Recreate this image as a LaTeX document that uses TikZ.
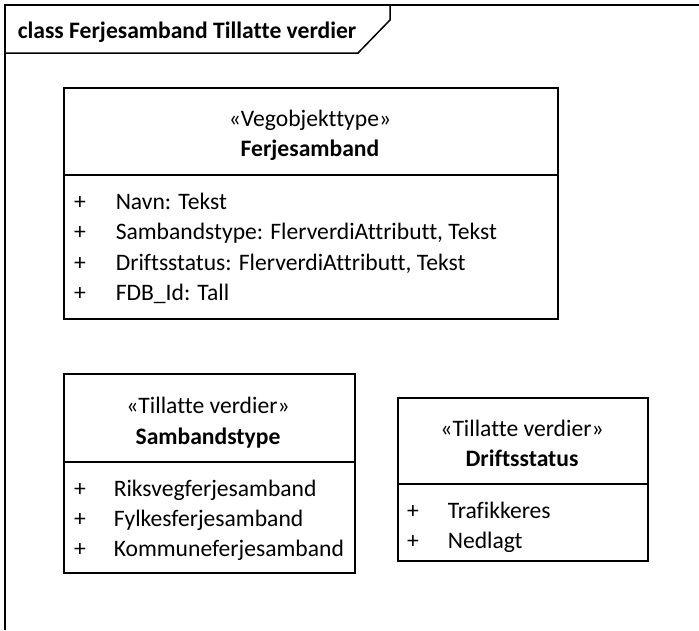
\documentclass[tikz,border=0pt]{standalone}
\usepackage{fontspec}
\setmainfont{Carlito}[Ligatures={NoCommon}]

\tikzset{
    classbox/.style={draw=black,line width=1.5pt,anchor=north west,inner sep=0pt},
    txt/.style={inner sep=0pt,anchor=base,font=\fontsize{23.6}{30}\selectfont},
    bold/.style={txt,font=\fontsize{23.6}{30}\selectfont\bfseries},
    attr/.style={txt,anchor=base west},
}

\begin{document}
\begin{tikzpicture}[x=1pt,y=-1pt,line width=1.5pt]
    \useasboundingbox (0,0) rectangle (699,630);

    % Frame
    \coordinate (fa) at (5,630);
    \coordinate (fb) at (5,5);
    \coordinate (fc) at (699,5);
    \coordinate (ta) at (5,53);
    \coordinate (tb) at (358,53);
    \coordinate (tc) at (390,20);
    \coordinate (td) at (390,5);
    \draw (fa) -- (fb) -- (fc);
    \draw (ta) -- (tb) -- (tc) -- (td);
    \node[bold,anchor=base west] (title) at (17,38) {class Ferjesamband Tillatte verdier};

    % Ferjesamband
    \node[classbox,minimum width=494,minimum height=231] (fs) at (63,87) {};
    \coordinate (fs1) at (63,175);
    \coordinate (fs2) at (557,175);
    \draw (fs1) -- (fs2);
    \node[txt] (fsst) at (310,126) {«Vegobjekttype»};
    \node[bold] (fsname) at (310,156) {Ferjesamband};
    \node[txt] (fsp1) at (80,209) {+};
    \node[txt] (fsp2) at (80,239) {+};
    \node[txt] (fsp3) at (80,270) {+};
    \node[txt] (fsp4) at (80,300) {+};
    \node[attr] (fsa1) at (115,209) {Navn: Tekst};
    \node[attr] (fsa2) at (115,239) {Sambandstype: FlerverdiAttributt, Tekst};
    \node[attr] (fsa3) at (115,270) {Driftsstatus: FlerverdiAttributt, Tekst};
    \node[attr] (fsa4) at (115,300) {FDB\_Id: Tall};

    % Sambandstype
    \node[classbox,minimum width=291,minimum height=199] (st) at (63,373) {};
    \coordinate (st1) at (63,462);
    \coordinate (st2) at (354,462);
    \draw (st1) -- (st2);
    \node[txt] (stst) at (208,413) {«Tillatte verdier»};
    \node[bold] (stname) at (208,444) {Sambandstype};
    \node[txt] (stp1) at (80,496) {+};
    \node[txt] (stp2) at (80,526) {+};
    \node[txt] (stp3) at (80,556) {+};
    \node[attr] (sta1) at (113,496) {Riksvegferjesamband};
    \node[attr] (sta2) at (113,526) {Fylkesferjesamband};
    \node[attr] (sta3) at (113,556) {Kommuneferjesamband};

    % Driftsstatus
    \node[classbox,minimum width=250,minimum height=163] (ds) at (397,397) {};
    \coordinate (ds1) at (397,484);
    \coordinate (ds2) at (647,484);
    \draw (ds1) -- (ds2);
    \node[txt] (dsst) at (522,436) {«Tillatte verdier»};
    \node[bold] (dsname) at (522,466) {Driftsstatus};
    \node[txt] (dsp1) at (413,518) {+};
    \node[txt] (dsp2) at (413,548) {+};
    \node[attr] (dsa1) at (447,518) {Trafikkeres};
    \node[attr] (dsa2) at (447,548) {Nedlagt};
\end{tikzpicture}
\end{document}
